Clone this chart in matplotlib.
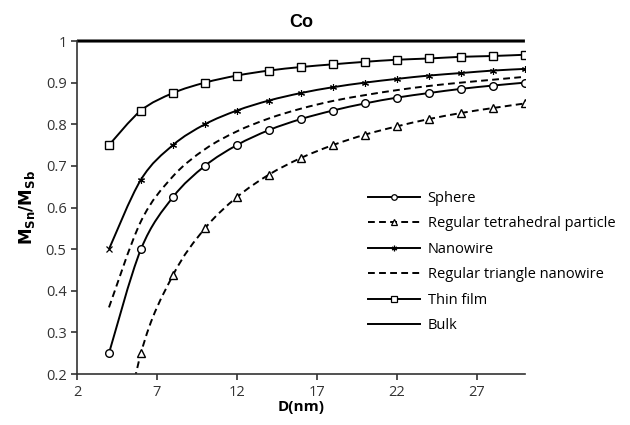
import numpy as np
import matplotlib
matplotlib.use("Agg")
from matplotlib import pyplot as plt
from matplotlib.path import Path
from matplotlib.patches import PathPatch
from matplotlib.lines import Line2D

plt.rcParams['font.family'] = ['Open Sans', 'DejaVu Sans']

# values
d = [4, 6, 8, 10, 12, 14, 16, 18, 20, 22, 24, 26, 28, 30]
sphere = [0.25, 0.5, 0.625, 0.7, 0.75, 0.786, 0.8125, 0.833, 0.85, 0.864, 0.875, 0.885, 0.893, 0.9]
tetra = [-0.125, 0.25, 0.4375, 0.55, 0.625, 0.679, 0.719, 0.75, 0.775, 0.795, 0.8125, 0.827, 0.839, 0.85]
nanowire = [0.5, 0.667, 0.75, 0.8, 0.833, 0.857, 0.875, 0.889, 0.9, 0.909, 0.917, 0.923, 0.929, 0.933]
tri_wire = [0.36, 0.567, 0.675, 0.74, 0.783, 0.814, 0.8375, 0.856, 0.87, 0.882, 0.892, 0.9, 0.907, 0.914]
thin_film = [0.75, 0.833, 0.875, 0.9, 0.917, 0.929, 0.9375, 0.944, 0.95, 0.955, 0.958, 0.962, 0.964, 0.967]
d_bulk = [2, 30]
bulk = [1, 1]

x_ticks = [2, 7, 12, 17, 22, 27]
y_ticks = [0.2, 0.3, 0.4, 0.5, 0.6, 0.7, 0.8, 0.9, 1.0]
y_ticklabels = ["0.2", "0.3", "0.4", "0.5", "0.6", "0.7", "0.8", "0.9", "1"]


def smooth_path(xs, ys):
    # excel-like smoothed line, built as cubic bezier segments
    p = np.column_stack([xs, ys]).astype(float)
    verts = [p[0]]
    codes = [Path.MOVETO]
    n = len(p)
    for i in range(n - 1):
        p0 = p[i - 1] if i > 0 else p[i]
        p3 = p[i + 2] if i + 2 < n else p[i + 1]
        c1 = p[i] + (p[i + 1] - p0) / 6
        c2 = p[i + 1] - (p3 - p[i]) / 6
        verts += [c1, c2, p[i + 1]]
        codes += [Path.CURVE4] * 3
    return Path(verts, codes)


fig = plt.figure(figsize=(6.3, 4.25), dpi=100)
ax = fig.add_axes([0.1222, 0.12, 0.711, 0.7835])

lw = 1.4
dash = (0, (3.5, 2.2))
series = [
    ("Sphere", d, sphere, "-", "o"),
    ("Regular tetrahedral particle", d, tetra, dash, "^"),
    ("Nanowire", d, nanowire, "-", (6, 2, 0)),
    ("Regular triangle nanowire", d, tri_wire, dash, None),
    ("Thin film", d, thin_film, "-", "s"),
    ("Bulk", d_bulk, bulk, "-", None),
]

handles = []
for name, xs, ys, ls, mk in series:
    patch = PathPatch(smooth_path(xs, ys), facecolor="none", edgecolor="black",
                      lw=lw if name != "Bulk" else 2.2, linestyle=ls,
                      clip_on=(name != "Bulk"))
    ax.add_patch(patch)
    if mk is not None:
        if name == "Nanowire":
            # first point is a plain x in the original, the rest asterisks
            ax.plot(xs[1:], ys[1:], linestyle="none", marker=mk, ms=5,
                    mec="black", mew=0.8, zorder=3)
            ax.plot(xs[:1], ys[:1], linestyle="none", marker="x", ms=4.5,
                    mec="black", mew=0.9, zorder=4)
        else:
            ax.plot(xs, ys, linestyle="none", marker=mk, ms=5.5, mfc="white",
                    mec="black", mew=1.0, zorder=3)
    handles.append(Line2D([], [], color="black", lw=lw, linestyle=ls,
                          marker=mk, ms=4, mfc="white", mec="black", mew=0.9))

ax.set_xlim(2, 30)
ax.set_ylim(0.2, 1.0)
ax.set_xticks(x_ticks)
ax.set_yticks(y_ticks)
ax.set_yticklabels(y_ticklabels)
ax.tick_params(direction="out", length=4, width=1.2, labelsize=10.5, colors="#333333")
ax.tick_params(axis="x", pad=4)
for s in ["top", "right"]:
    ax.spines[s].set_visible(False)
for s in ["left", "bottom"]:
    ax.spines[s].set_linewidth(1.2)
    ax.spines[s].set_color("#333333")

ax.set_title("Co", fontsize=13, fontweight="bold", pad=10,
             family=["Liberation Sans", "DejaVu Sans"])
ax.set_xlabel("D(nm)", fontsize=11, fontweight="bold", labelpad=0)
ax.set_ylabel(r"$\mathbf{M_{Sn}/M_{Sb}}$", fontsize=12, labelpad=6)

ax.legend(handles, [s[0] for s in series], loc="upper left",
          bbox_to_anchor=(0.62, 0.59), frameon=False, fontsize=10.5,
          handlelength=3.6, handletextpad=0.5, labelspacing=0.72)

fig.savefig("out.png", dpi=100)
